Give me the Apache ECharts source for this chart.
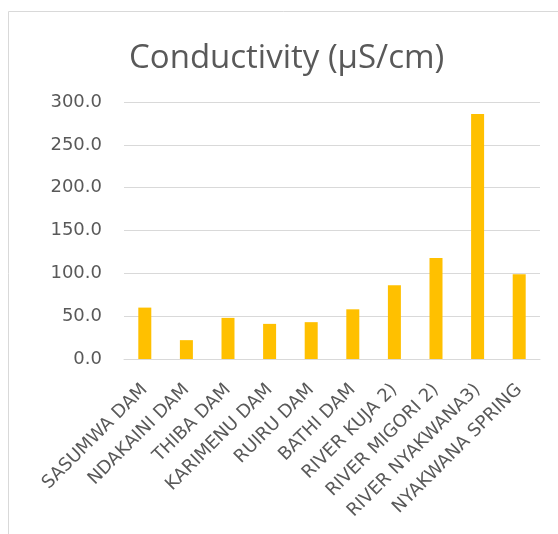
<!DOCTYPE html>
<html>
<head>
<meta charset="utf-8">
<script src="https://cdn.jsdelivr.net/npm/echarts@6/dist/echarts.min.js"></script>
<style>html,body{margin:0;padding:0;background:#fff;}#c{width:558px;height:534px;}</style>
</head>
<body>
<div id="c"></div>
<script>
const categories = ['SASUMWA DAM','NDAKAINI DAM','THIBA DAM','KARIMENU DAM','RUIRU DAM','BATHI DAM','RIVER KUJA 2)','RIVER MIGORI 2)','RIVER NYAKWANA3)','NYAKWANA SPRING'];
const conductivity = [60, 22, 48, 41, 43, 58, 86, 118, 286, 99];
const yTicks = [0, 50, 100, 150, 200, 250, 300];

const chart = echarts.init(document.getElementById('c'));
chart.setOption({
  animation: false,
  title: {
    text: 'Conductivity (µS/cm)',
    left: 124,
    top: 37,
    textStyle: { fontFamily: 'Open Sans', fontSize: 33, fontWeight: 'normal', color: '#595959' }
  },
  graphic: [{
    type: 'rect', shape: { x: 8.5, y: 11.5, width: 600, height: 600 },
    style: { fill: 'none', stroke: '#d9d9d9', lineWidth: 1 }, silent: true
  }],
  grid: { left: 124, right: 18, top: 102, bottom: 175 },
  xAxis: {
    type: 'category',
    data: categories,
    axisLine: { lineStyle: { color: '#d9d9d9' } },
    axisTick: { show: false },
    axisLabel: { rotate: 45, interval: 0, color: '#595959', fontFamily: 'DejaVu Sans', fontSize: 18, margin: 28 }
  },
  yAxis: {
    type: 'value',
    min: yTicks[0], max: yTicks[yTicks.length - 1], interval: 50,
    axisLine: { show: false },
    axisTick: { show: false },
    splitLine: { lineStyle: { color: '#d9d9d9' } },
    axisLabel: { color: '#595959', fontFamily: 'DejaVu Sans', fontSize: 18, margin: 22,
      formatter: v => v.toFixed(1) }
  },
  series: [{
    type: 'bar',
    data: conductivity,
    barWidth: 13,
    itemStyle: { color: '#ffc000' }
  }]
});
</script>
</body>
</html>
